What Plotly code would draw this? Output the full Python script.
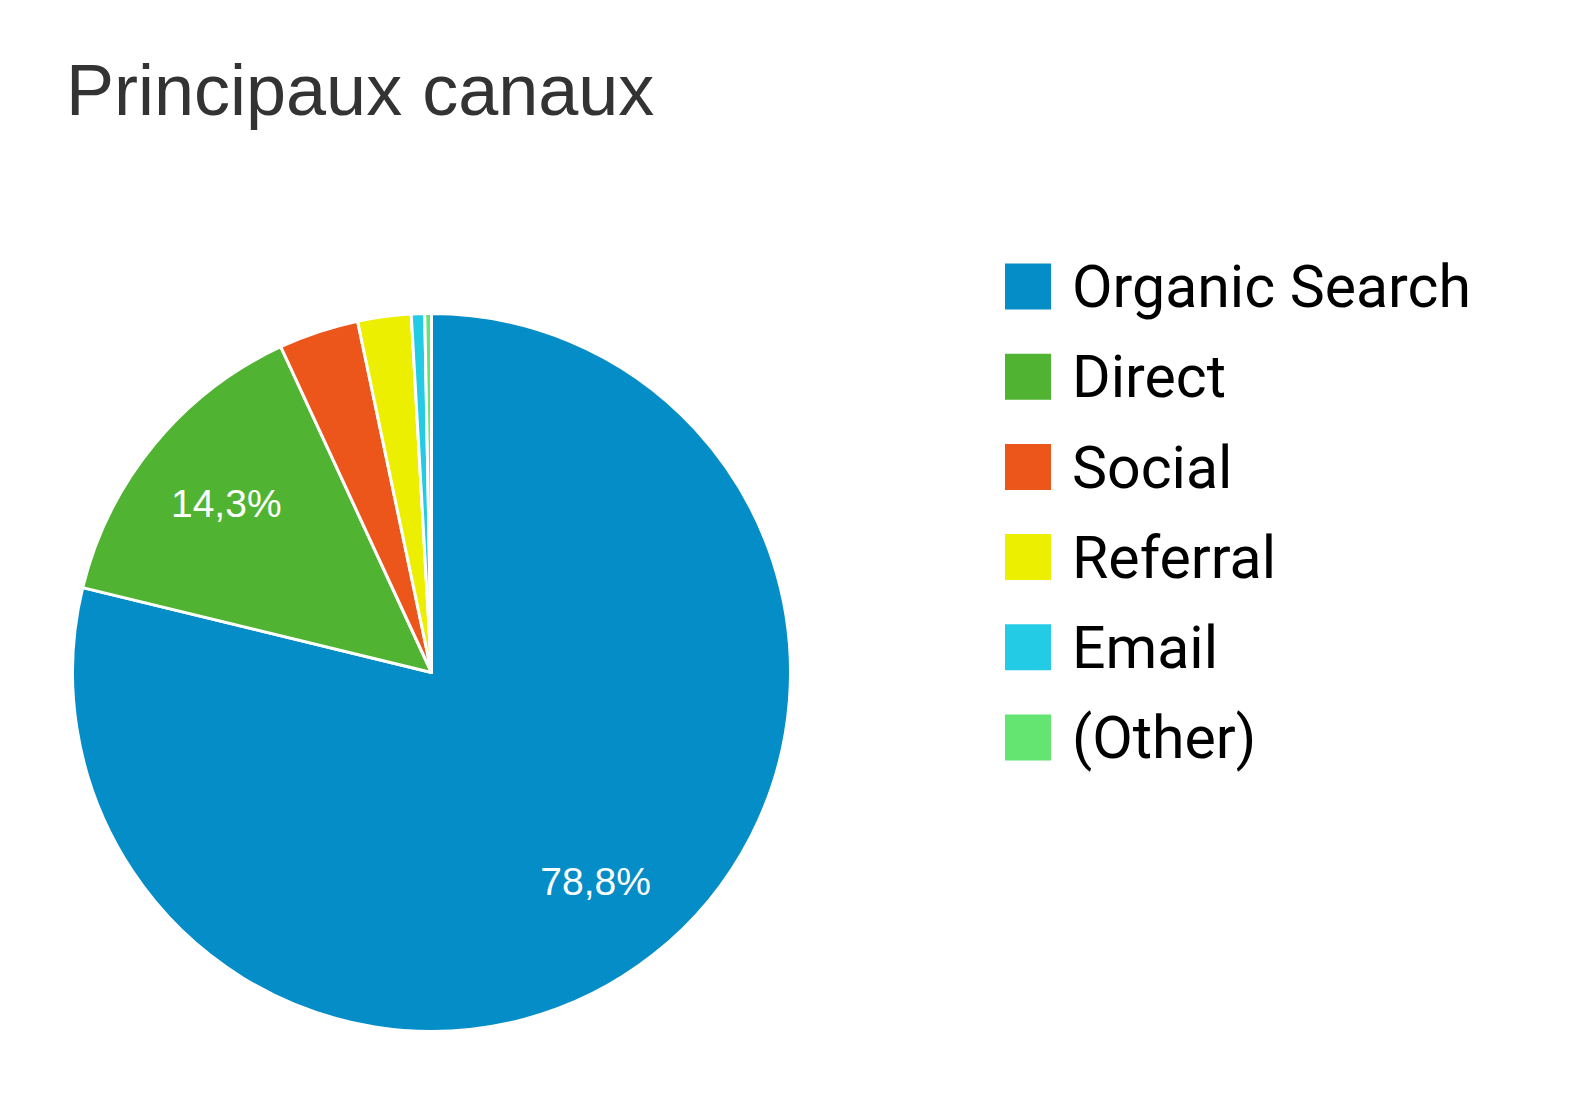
import plotly.graph_objects as go

# données du graphique
canaux = ["Organic Search", "Direct", "Social", "Referral", "Email", "(Other)"]
parts = [78.8, 14.3, 3.6, 2.4, 0.6, 0.3]
couleurs = ["#058DC7", "#50B432", "#ED561B", "#EDEF00", "#24CBE5", "#64E572"]
afficher_pct = [True, True, False, False, False, False]

W, H = 1588, 1114

# centre et rayon du camembert (px, repère de la figure)
cx, cy, r = 423.5, 664.5, 359
domaine = dict(x=[(cx - r) / W, (cx + r) / W], y=[1 - (cy + r) / H, 1 - (cy - r) / H])

fig = go.Figure()

# camembert
fig.add_trace(go.Pie(
    labels=canaux,
    values=parts,
    sort=False,
    direction="clockwise",
    rotation=0,
    marker=dict(colors=couleurs, line=dict(color="white", width=3)),
    textinfo="none",
    hoverinfo="skip",
    showlegend=False,
    domain=domaine,
))

# étiquettes de pourcentage (anneau transparent superposé pour les placer vers l'extérieur)
fig.add_trace(go.Pie(
    labels=canaux,
    values=parts,
    sort=False,
    direction="clockwise",
    rotation=0,
    hole=0.48,
    marker=dict(colors=["rgba(0,0,0,0)"] * len(canaux), line=dict(width=0)),
    texttemplate=["%{percent}" if a else "" for a in afficher_pct],
    textposition="inside",
    insidetextorientation="horizontal",
    textfont=dict(family="Liberation Sans, Arial", size=39, color="white"),
    hoverinfo="skip",
    showlegend=False,
    domain=domaine,
))

# légende (carrés + libellés)
rangs = list(range(len(canaux)))
fig.add_trace(go.Scatter(
    x=[0] * len(canaux), y=rangs, mode="markers",
    marker=dict(symbol="square", size=46, color=couleurs, line=dict(width=0)),
    hoverinfo="skip", showlegend=False, xaxis="x", yaxis="y",
))
fig.add_trace(go.Scatter(
    x=[44] * len(canaux), y=rangs, mode="text", text=canaux,
    textposition="middle right",
    textfont=dict(family="Roboto", size=59, color="black"),
    hoverinfo="skip", showlegend=False, xaxis="x", yaxis="y2",
))

pas = 90.2
y0 = 278.5      # centre du premier carré
y0_txt = 284.5  # ligne du premier libellé
fig.update_layout(
    width=W, height=H,
    margin=dict(l=0, r=0, t=0, b=0),
    paper_bgcolor="white",
    plot_bgcolor="rgba(0,0,0,0)",
    title=dict(
        text="Principaux canaux",
        x=58 / W, xanchor="left", xref="container",
        y=1 - 82 / H, yanchor="middle", yref="container",
        font=dict(family="Liberation Sans, Arial", size=72, color="#333333"),
    ),
    separators=", ",
    xaxis=dict(domain=[0, 1.0], range=[-1020, W - 1020],
               visible=False, fixedrange=True),
    yaxis=dict(domain=[0, 1], range=[(H - y0) / pas, -y0 / pas],
               visible=False, fixedrange=True),
    yaxis2=dict(domain=[0, 1], range=[(H - y0_txt) / pas, -y0_txt / pas],
                overlaying="y", visible=False, fixedrange=True),
)

fig.write_html("out.html")
